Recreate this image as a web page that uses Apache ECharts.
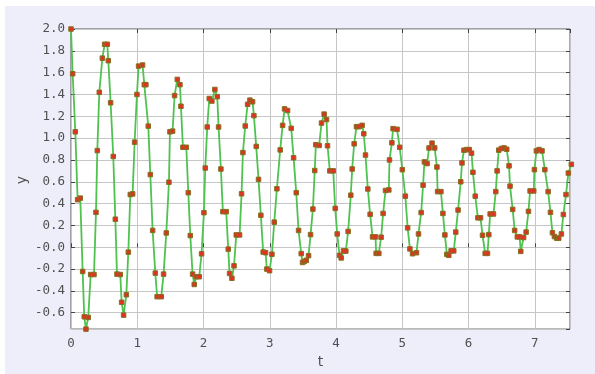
<!DOCTYPE html>
<html><head><meta charset="utf-8">
<script src="https://cdn.jsdelivr.net/npm/echarts@6/dist/echarts.min.js"></script>
<style>
html,body{margin:0;padding:0;background:#fff;width:595px;height:374px;overflow:hidden}
#chart{position:absolute;left:5px;top:6px;width:590px;height:368px;background:#eeeefa}
</style></head><body><div id="chart"></div>
<script>
const tValues = [
0,0.025,0.065,0.10,0.14,0.176,0.20,0.226,0.26,0.297,0.347,0.377,0.397,0.427,0.473,0.508,0.548,0.563,0.598,0.638,
0.669,0.694,0.744,0.764,0.794,0.835,0.865,0.895,0.93,0.96,0.995,1.02,1.08,1.106,1.13,1.166,1.197,1.232,1.272,1.30,
1.362,1.397,1.438,1.478,1.493,1.533,1.563,1.604,1.644,1.659,1.689,1.74,1.77,1.80,1.835,1.86,1.89,1.935,1.97,2.006,
2.026,2.056,2.086,2.126,2.171,2.207,2.227,2.262,2.292,2.342,2.373,2.393,2.428,2.46,2.494,2.544,2.574,2.594,2.629,2.665,
2.70,2.74,2.76,2.795,2.83,2.865,2.90,2.936,2.956,2.996,3.032,3.067,3.107,3.157,3.193,3.223,3.268,3.323,3.359,3.399,
3.434,3.474,3.494,3.52,3.55,3.585,3.615,3.65,3.678,3.695,3.745,3.78,3.82,3.856,3.871,3.906,3.957,3.987,4.017,4.052,
4.077,4.112,4.147,4.182,4.222,4.243,4.273,4.308,4.348,4.393,4.418,4.444,4.479,4.514,4.55,4.595,4.605,4.645,4.68,4.71,
4.746,4.796,4.806,4.842,4.86,4.92,4.96,5.0,5.045,5.08,5.114,5.154,5.214,5.244,5.284,5.313,5.333,5.373,5.403,5.448,
5.488,5.522,5.532,5.582,5.612,5.642,5.672,5.701,5.736,5.776,5.806,5.841,5.881,5.90,5.93,5.97,6.01,6.045,6.065,6.10,
6.14,6.18,6.21,6.25,6.285,6.305,6.325,6.375,6.41,6.43,6.455,6.495,6.535,6.575,6.61,6.625,6.665,6.695,6.735,6.77,
6.787,6.83,6.868,6.903,6.928,6.983,6.993,7.023,7.063,7.108,7.15,7.20,7.235,7.265,7.295,7.33,7.36,7.40,7.43,7.47,
7.505,7.55
];
const yValues = [
2.0,1.59,1.058,0.436,0.45,-0.222,-0.637,-0.75,-0.643,-0.25,-0.25,0.32,0.886,1.42,1.733,1.86,1.86,1.71,1.324,0.832,
0.257,-0.246,-0.25,-0.504,-0.622,-0.435,-0.045,0.483,0.489,0.963,1.40,1.66,1.67,1.49,1.49,1.11,0.666,0.154,-0.237,-0.453,
-0.453,-0.246,0.131,0.596,1.058,1.064,1.39,1.538,1.49,1.292,0.916,0.916,0.50,0.107,-0.246,-0.341,-0.27,-0.27,-0.06,0.317,
0.726,1.102,1.363,1.34,1.446,1.38,1.102,0.717,0.326,0.326,-0.017,-0.24,-0.284,-0.17,0.113,0.113,0.49,0.868,1.111,1.31,
1.348,1.333,1.206,0.924,0.622,0.293,-0.044,-0.05,-0.2,-0.215,-0.064,0.23,0.536,0.892,1.117,1.268,1.253,1.09,0.82,0.50,
0.154,-0.058,-0.139,-0.13,-0.12,-0.077,0.116,0.35,0.703,0.94,0.933,1.138,1.22,1.17,0.93,0.70,0.70,0.356,0.122,-0.074,
-0.098,-0.033,-0.035,0.145,0.477,0.717,0.948,1.105,1.105,1.117,1.04,0.845,0.534,0.302,0.095,0.095,-0.056,-0.056,0.092,0.31,
0.52,0.525,0.80,0.957,1.087,1.081,0.916,0.711,0.468,0.178,-0.015,-0.059,-0.05,0.122,0.318,0.569,0.782,0.767,0.91,0.954,
0.91,0.735,0.51,0.51,0.31,0.113,-0.065,-0.074,-0.033,-0.033,0.139,0.341,0.60,0.773,0.889,0.895,0.895,0.862,0.687,0.468,
0.27,0.27,0.11,-0.056,-0.056,0.116,0.305,0.305,0.51,0.70,0.89,0.905,0.91,0.898,0.746,0.56,0.347,0.154,0.095,0.095,
-0.038,0.089,0.139,0.329,0.516,0.516,0.711,0.883,0.895,0.883,0.711,0.51,0.32,0.133,0.098,0.083,0.083,0.122,0.30,0.483,
0.68,0.76
];
const xTickLabels = ['0','1','2','3','4','5','6','7'];
const yTickLabels = ['2.0','1.8','1.6','1.4','1.2','1.0','0.8','0.6','0.4','0.2','-0.0','-0.2','-0.4','-0.6'];

const seriesData = tValues.map((t, i) => [t, yValues[i]]);
const labelFont = {fontFamily: 'DejaVu Sans Mono', fontSize: 12.5, color: '#505050'};
const tickStyle = {show: true, inside: true, length: 4, lineStyle: {color: '#444', width: 1}};
const gridLine = {show: true, lineStyle: {color: '#c6c6c6', width: 1}};

function xLabel(v) {
  const i = Math.round(v);
  return (Math.abs(v - i) < 1e-6 && i >= 0 && i < xTickLabels.length) ? xTickLabels[i] : '';
}
function yLabel(v) {
  const i = Math.round(v / 0.2);
  return (Math.abs(v - i * 0.2) < 1e-6 && i >= 0 && i < yTickLabels.length) ? yTickLabels[i] : '';
}

const chart = echarts.init(document.getElementById('chart'), null, {renderer: 'canvas'});
chart.setOption({
  animation: false,
  grid: {left: 66, top: 23, right: 25, bottom: 36, show: true, backgroundColor: '#ffffff', borderColor: '#555', borderWidth: 1},
  graphic: [{
    type: 'text', left: 10, top: 170, rotation: Math.PI / 2,
    style: {text: 'y', fontFamily: 'DejaVu Sans', fontSize: 14, fill: '#505050'}
  }],
  xAxis: [
    {type: 'value', position: 'bottom', min: 0, max: 7.53, interval: 1,
     axisLine: {show: false}, axisTick: tickStyle, splitLine: gridLine,
     axisLabel: Object.assign({margin: 8, formatter: xLabel, showMaxLabel: false}, labelFont),
     name: 't', nameLocation: 'middle', nameGap: 17,
     nameTextStyle: {fontFamily: 'DejaVu Sans', fontSize: 14, color: '#505050'}},
    {type: 'value', position: 'top', min: 0, max: 7.53, interval: 1,
     axisLine: {show: false}, axisTick: tickStyle, splitLine: {show: false}, axisLabel: {show: false}}
  ],
  yAxis: [
    {type: 'value', min: -0.75, max: 2.0, show: false},
    {type: 'value', position: 'left', inverse: true, min: 0, max: 2.75, interval: 0.2,
     axisLine: {show: false}, axisTick: tickStyle, splitLine: gridLine,
     axisLabel: Object.assign({margin: 6, formatter: yLabel, showMaxLabel: false}, labelFont)},
    {type: 'value', position: 'right', inverse: true, min: 0, max: 2.75, interval: 0.2,
     axisLine: {show: false}, axisTick: tickStyle, splitLine: {show: false}, axisLabel: {show: false}}
  ],
  series: [{
    type: 'line', xAxisIndex: 0, yAxisIndex: 0, data: seriesData, clip: false,
    lineStyle: {color: '#4fc24f', width: 1.8},
    symbol: 'rect', symbolSize: 4.5, showSymbol: true,
    itemStyle: {color: '#dd3322', borderColor: '#857020', borderWidth: 1}
  }]
});
</script></body></html>
